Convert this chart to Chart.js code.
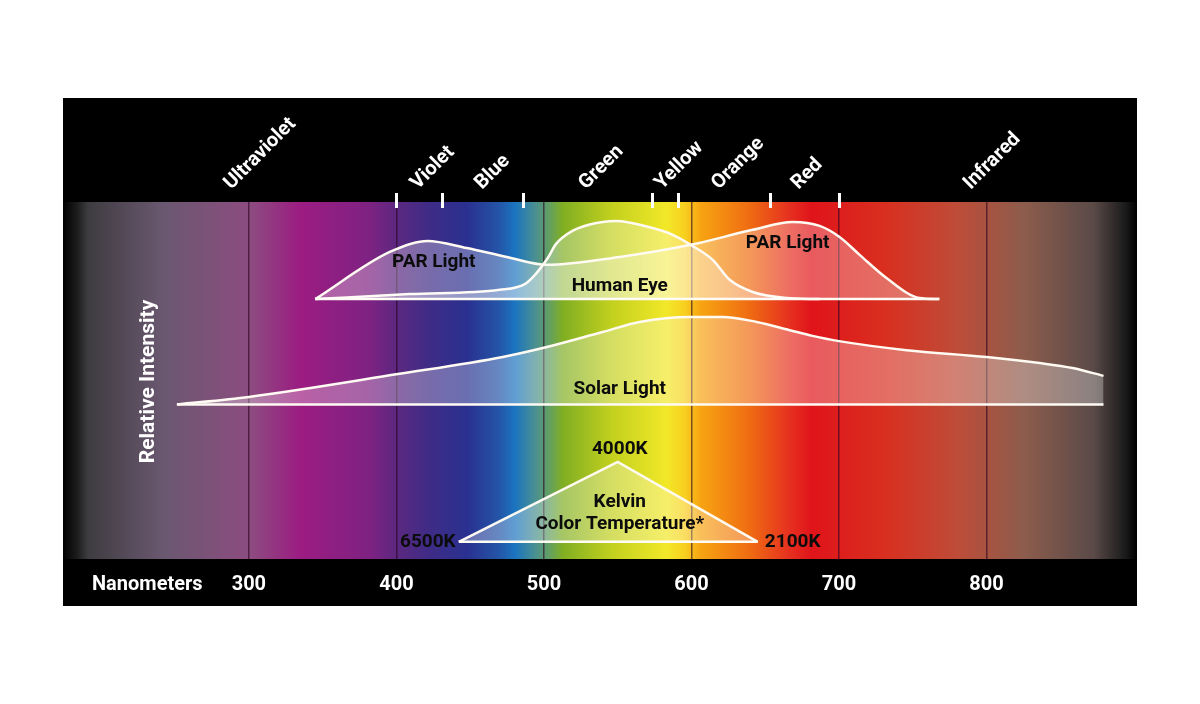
<!DOCTYPE html>
<html>
<head>
<meta charset="utf-8">
<script src="https://cdn.jsdelivr.net/npm/chart.js@4/dist/chart.umd.min.js"></script>
<style>
  html, body { margin: 0; padding: 0; background: #fff; }
  canvas { display: block; }
</style>
</head>
<body>
<canvas id="spectrum" width="1200" height="704"></canvas>
<script>

// wavelength ticks (nm)
const nmTicks = [300, 400, 500, 600, 700, 800];

// colour band names along the top, and where each name starts (nm)
const bandNames = ["Ultraviolet", "Violet", "Blue", "Green", "Yellow", "Orange", "Red", "Infrared"];
const bandNameNm = [288, 414.5, 458, 528.5, 580, 618.5, 672.5, 789.3];
// white marks between the colour bands (nm)
const bandEdges = [400, 431, 486, 573, 591, 653, 700];

// PAR light curve
const parNm  = [345, 395.5, 421, 447.7, 474.8, 501.9, 551.4, 599.5, 641.5, 668.6, 686.9, 700.4, 714, 732.2, 754.6, 768];
const parVal = [72.8, 86, 89.1, 87.1, 84.6, 82.4, 84.6, 88, 92.2, 94.4, 93.3, 90.2, 85.2, 78.7, 73.1, 72.8];

// human eye curve
const eyeNm  = [345, 409, 470, 487, 494.4, 502.6, 508.1, 517.6, 531, 548.6, 573.7, 587.3, 599.5, 614.4, 625.9, 641.5, 664.5, 686.9];
const eyeVal = [72.8, 74.2, 75.4, 77, 79.8, 84.3, 88.2, 91.5, 93.7, 94.7, 92.7, 90.8, 88, 83.8, 78.2, 74.8, 73.1, 72.8];
const parBase = 72.8;

// solar light curve
const solarNm  = [251.2, 300, 401, 472.1, 499.2, 539.8, 564.9, 598.8, 621.1, 644.2, 666.5, 682.1, 699, 745.8, 800, 835.9, 858.3, 879.3];
const solarVal = [43.3, 45.4, 51.8, 56.6, 59.1, 63.6, 66.4, 67.8, 67.8, 66.4, 64.1, 62.5, 61.1, 58.5, 56.6, 54.9, 53.5, 51.3];
const solarBase = 43.3;

// kelvin colour temperature triangle
const kelvinNm  = [442.3, 550, 644.9];
const kelvinVal = [4.8, 27.2, 4.8];
const kelvinBase = 4.8;

// text placed on the curves
const labelText = ["PAR Light", "Human Eye", "PAR Light", "Solar Light", "4000K", "Kelvin", "Color Temperature*", "6500K", "2100K"];
const labelNm   = [425.3, 551.4, 665.2, 551.4, 551.4, 551.4, 551.4, 421.3, 668.6];
const labelVal  = [83.2, 76.5, 88.5, 47.6, 30.8, 16, 9.8, 4.8, 4.8];

// background spectrum colours by wavelength
const spectrumNm = [174, 183.5, 191, 241.7, 300.7, 335, 382, 401, 422.6, 447.7, 470, 480.2, 494.4, 503.9, 512.7, 545.9, 583.2, 595.3, 606.2, 639.4, 666.5, 681.4, 732.9, 779.7, 825.7, 872.5, 893.5, 902];
const spectrumColors = ["#000000", "#1c1c1c", "#3e3c40", "#6a5870", "#8c4c80", "#9c1c82", "#7e2282", "#5a2880", "#3e2c86", "#2a3090", "#2456a8", "#1a74c0", "#4a9090", "#64a060", "#80ae22", "#c2d01e", "#f2e828", "#f8d020", "#f7a412", "#ef6c12", "#e63020", "#e0141a", "#d83020", "#be4c38", "#8c5c4c", "#5a4a48", "#1c1c1c", "#000000"];

const FONT = 'Roboto, "DejaVu Sans", sans-serif';
const LINE = "#fffaf2";
const FILL = "rgba(255,255,255,0.3)";

function pts(xs, ys) {
    return xs.map((x, i) => ({ x: x, y: ys[i] }));
}

function curve(xs, ys, base, smooth) {
    return {
        data: pts(xs, ys),
        borderColor: LINE,
        borderWidth: 2.5,
        backgroundColor: FILL,
        fill: { value: base },
        pointRadius: 0,
        showLine: true,
        tension: 0,
        cubicInterpolationMode: smooth ? "monotone" : "default"
    };
}

function baseline(x0, x1, base) {
    return {
        data: [{ x: x0, y: base }, { x: x1, y: base }],
        borderColor: LINE,
        borderWidth: 2.5,
        fill: false,
        pointRadius: 0,
        showLine: true
    };
}

const backdrop = {
    id: "backdrop",
    beforeDraw(chart) {
        const ctx = chart.ctx;
        const a = chart.chartArea;
        const x = chart.scales.x;
        ctx.save();
        ctx.fillStyle = "#fff";
        ctx.fillRect(0, 0, chart.width, chart.height);
        ctx.fillStyle = "#000";
        ctx.fillRect(a.left, a.top - 104, a.right - a.left, a.bottom - a.top + 151);
        const g = ctx.createLinearGradient(a.left, 0, a.right, 0);
        spectrumNm.forEach(function (nm, i) {
            const f = (x.getPixelForValue(nm) - a.left) / (a.right - a.left);
            g.addColorStop(Math.min(1, Math.max(0, f)), spectrumColors[i]);
        });
        ctx.fillStyle = g;
        ctx.fillRect(a.left, a.top, a.right - a.left, a.bottom - a.top);
        ctx.restore();
    }
};

const texts = {
    id: "texts",
    afterDatasetsDraw(chart) {
        const ctx = chart.ctx;
        const a = chart.chartArea;
        const x = chart.scales.x;
        const y = chart.scales.y;
        ctx.save();

        // band edge marks
        ctx.strokeStyle = "#fff";
        ctx.lineWidth = 3;
        bandEdges.forEach(function (nm) {
            const px = Math.round(x.getPixelForValue(nm)) + 0.5;
            ctx.beginPath();
            ctx.moveTo(px, a.top - 9);
            ctx.lineTo(px, a.top + 6);
            ctx.stroke();
        });

        // rotated band names
        ctx.fillStyle = "#fff";
        ctx.font = "bold 20px " + FONT;
        ctx.textAlign = "left";
        ctx.textBaseline = "alphabetic";
        bandNames.forEach(function (name, i) {
            ctx.save();
            ctx.translate(x.getPixelForValue(bandNameNm[i]), a.top - 12);
            ctx.rotate(-Math.PI / 4);
            ctx.fillText(name, 0, 0);
            ctx.restore();
        });

        // curve labels
        ctx.fillStyle = "#0c0c0c";
        ctx.font = "bold 19px " + FONT;
        ctx.textAlign = "center";
        ctx.textBaseline = "middle";
        labelText.forEach(function (t, i) {
            ctx.fillText(t, x.getPixelForValue(labelNm[i]), y.getPixelForValue(labelVal[i]));
        });

        // axis names
        ctx.fillStyle = "#fff";
        ctx.font = "bold 20px " + FONT;
        ctx.textAlign = "left";
        ctx.fillText("Nanometers", a.left + 29, a.bottom + 26);
        ctx.save();
        ctx.translate(a.left + 86, (a.top + a.bottom) / 2 + 1);
        ctx.rotate(-Math.PI / 2);
        ctx.textAlign = "center";
        ctx.font = "bold 21px " + FONT;
        ctx.fillText("Relative Intensity", 0, 0);
        ctx.restore();

        ctx.restore();
    }
};

new Chart(document.getElementById("spectrum").getContext("2d"), {
    type: "scatter",
    data: {
        datasets: [
            curve(solarNm, solarVal, solarBase, true),
            baseline(solarNm[0], solarNm[solarNm.length - 1], solarBase),
            curve(kelvinNm, kelvinVal, kelvinBase, false),
            baseline(kelvinNm[0], kelvinNm[kelvinNm.length - 1], kelvinBase),
            curve(parNm, parVal, parBase, true),
            curve(eyeNm, eyeVal, parBase, true),
            baseline(parNm[0], parNm[parNm.length - 1], parBase)
        ]
    },
    options: {
        responsive: false,
        animation: false,
        layout: { padding: { left: 63, right: 63, top: 202, bottom: 0 } },
        plugins: {
            legend: { display: false },
            tooltip: { enabled: false }
        },
        scales: {
            x: {
                type: "linear",
                min: 174,
                max: 902,
                afterBuildTicks: function (s) {
                    s.ticks = nmTicks.map(v => ({ value: v }));
                },
                afterFit: function (s) {
                    s.height = 145;
                },
                grid: { color: "rgba(40,0,30,0.6)", lineWidth: 1.5, drawTicks: false },
                border: { display: false },
                ticks: {
                    color: "#fff",
                    padding: 14,
                    font: { family: FONT, size: 20, weight: "bold" }
                }
            },
            y: {
                display: false,
                min: 0,
                max: 100
            }
        }
    },
    plugins: [backdrop, texts]
});

</script>
</body>
</html>
